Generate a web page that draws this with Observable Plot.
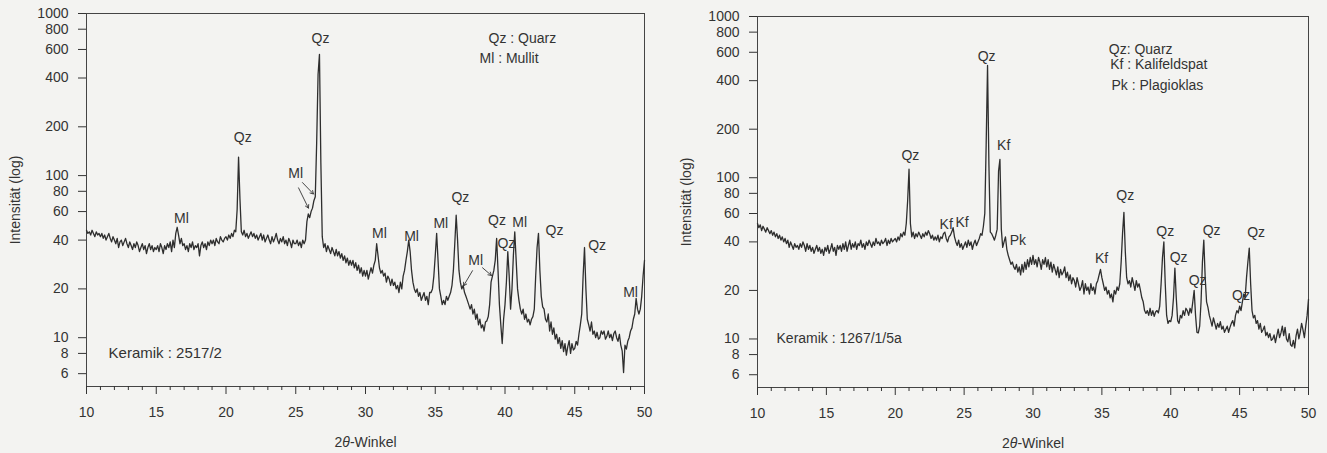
<!DOCTYPE html>
<html>
<head>
<meta charset="utf-8">
<script src="https://cdn.jsdelivr.net/npm/d3@7"></script>
<script src="https://cdn.jsdelivr.net/npm/@observablehq/plot@0.6"></script>
<style>
  body { margin: 0; background: #f3f3f1; font-family: "Liberation Sans", Arial, sans-serif; }
  #charts { display: flex; width: 1327px; height: 453px; }
</style>
</head>
<body>
<div id="charts"></div>
<script>
// Scan start, step and tick values (2θ in degrees, intensity on a log axis)
const thetaStart = 10;
const thetaStep = 0.1;
const xMajorTicks = [10, 15, 20, 25, 30, 35, 40, 45, 50];
const xMinorTicks = [11, 12, 13, 14, 16, 17, 18, 19, 21, 22, 23, 24, 26, 27, 28, 29, 31, 32, 33, 34,
                     36, 37, 38, 39, 41, 42, 43, 44, 46, 47, 48, 49];
const yTicks = [6, 8, 10, 20, 40, 60, 80, 100, 200, 400, 600, 800, 1000];

// Keramik 2517/2 — intensity per 0.1° step, one row per degree (10.0 … 50.0)
const counts2517 = [
  46, 44, 45, 43, 46, 44, 42, 45, 43, 44,
  42, 44, 41, 43, 40, 42, 44, 41, 39, 42,
  40, 38, 41, 36, 39, 40, 37, 39, 41, 38,
  36, 39, 37, 35, 38, 36, 39, 37, 34, 36,
  38, 35, 37, 33, 36, 38, 35, 37, 34, 36,
  35, 37, 34, 38, 36, 33, 37, 35, 38, 36,
  39, 34, 40, 36, 44, 48, 43, 38, 41, 37,
  38, 35, 37, 34, 38, 36, 39, 35, 37, 36,
  38, 32, 37, 39, 36, 38, 35, 39, 37, 40,
  38, 40, 37, 41, 39, 38, 42, 40, 39, 41,
  42, 40, 43, 41, 44, 42, 46, 45, 62, 130,
  72, 45, 43, 46, 42, 44, 41, 43, 45, 42,
  44, 41, 43, 40, 42, 44, 40, 43, 39, 41,
  43, 40, 38, 42, 39, 41, 44, 40, 38, 41,
  39, 42, 38, 40, 37, 41, 39, 36, 40, 38,
  38, 40, 37, 39, 36, 40, 38, 40, 52, 58,
  55, 60, 63, 70, 74, 160, 420, 560, 120, 42,
  36, 38, 34, 37, 35, 33, 36, 34, 32, 35,
  32, 34, 31, 33, 30, 32, 29, 31, 28, 30,
  28, 30, 27, 29, 26, 28, 25, 27, 24, 26,
  24, 26, 23, 25, 27, 25, 28, 30, 38, 32,
  27, 25, 26, 24, 25, 22, 24, 23, 21, 23,
  21, 22, 20, 21, 19, 22, 20, 24, 26, 30,
  34, 40, 34, 26, 22, 20, 19, 20, 18, 19,
  17, 18, 19, 17, 18, 16, 19, 19, 20, 24,
  32, 44, 30, 20, 18, 16, 17, 16, 18, 17,
  18, 19, 21, 26, 38, 57, 40, 26, 22, 20,
  21, 19, 18, 17, 16, 15, 16, 14, 15, 13,
  14, 12, 13, 11.5, 12, 11, 12.5, 12.7, 13.5, 16,
  22, 24, 26, 30, 41, 26, 16, 12, 9.2, 13,
  16, 22, 34, 24, 15, 20, 32, 45, 30, 20,
  17, 15, 14, 15, 13, 14, 12.5, 13, 12, 13,
  13.5, 15, 24, 36, 44, 26, 18, 15.5, 15, 13,
  12.5, 14, 11, 12.5, 10.5, 11.5, 9.8, 10.5, 9.2, 10,
  8.6, 9.6, 8.2, 9.2, 7.8, 8.8, 9.6, 8, 9.2, 8.4,
  8.6, 9.5, 9, 10.5, 12, 14, 24, 36, 20, 13,
  12, 11, 12.5, 10.5, 11, 10, 10.8, 9.8, 10, 11,
  10.5, 11, 9.8, 10.2, 11, 10, 10.5, 9.6, 10.6, 11,
  10, 9.5, 10.5, 9, 8.3, 6.1, 9, 8.5, 9.5, 10,
  11, 11.5, 13, 14, 17.5, 15, 14, 15, 18, 24,
  30
];

// Keramik 1267/1/5a — intensity per 0.1° step, one row per degree (10.0 … 50.0)
const counts1267 = [
  52, 49, 51, 47, 50, 48, 46, 49, 47, 45,
  47, 44, 46, 43, 45, 42, 44, 41, 43, 40,
  42, 39, 41, 37, 40, 38, 36, 39, 37, 38,
  36, 39, 37, 40, 38, 35, 39, 36, 38, 35,
  37, 34, 36, 38, 35, 37, 34, 36, 33, 37,
  35, 38, 34, 36, 39, 35, 37, 33, 38, 36,
  38, 35, 39, 36, 40, 35, 38, 41, 36, 39,
  37, 40, 36, 39, 38, 41, 37, 39, 36, 40,
  38, 41, 39, 37, 40, 38, 42, 39, 40, 38,
  41, 39, 40, 42, 38, 41, 39, 42, 40, 41,
  42, 40, 43, 41, 45, 43, 46, 44, 52, 72,
  113, 52, 43, 46, 42, 45, 43, 46, 44, 42,
  45, 43, 46, 44, 47, 45, 42, 44, 41, 43,
  41, 44, 40, 43, 42, 45, 46, 42, 40, 43,
  44, 46, 49, 43, 40, 38, 41, 37, 39, 36,
  38, 40, 37, 41, 38, 40, 36, 39, 41, 38,
  40, 42, 45, 44, 50, 60, 160, 497, 120, 46,
  45, 43, 41, 44, 48, 110, 130, 48, 37, 40,
  43, 36, 33, 31, 29, 30, 28, 27, 29, 26,
  28, 25, 29, 26, 30, 27, 31, 28, 32, 29,
  33, 29, 31, 28, 32, 30, 27, 31, 29, 32,
  28, 31, 27, 30, 26, 29, 27, 25, 28, 24,
  27, 25, 26, 28, 24, 26, 23, 25, 22, 24,
  23, 21, 24, 22, 20, 21, 23, 19, 22, 20,
  21, 19, 22, 20, 21, 19, 22, 23, 25, 27,
  24, 22, 20, 21, 19, 20, 18, 19, 17, 20,
  19, 21, 20, 22, 30, 45, 61, 35, 24, 22,
  23, 21, 24, 22, 20, 23, 21, 22, 20, 18,
  17, 15, 14.4, 15, 14, 15.5, 14, 15, 13.8, 14.7,
  15, 14.5, 16, 22, 32, 40, 22, 14, 12.5, 13,
  12.8, 14, 18, 27.5, 18, 13, 12.5, 14, 13.5, 15,
  14, 15.5, 15, 14, 15.5, 14.5, 17, 20, 14, 11,
  10.9, 12, 17, 30, 41, 24, 17, 15.7, 14, 13,
  12, 13.5, 12.5, 11.5, 12.5, 11.8, 12.8, 11.5, 12, 11,
  11.5, 12, 11, 11.8, 12.5, 13, 12, 14, 15, 14.5,
  16, 15, 17, 19, 18, 24, 30, 36.6, 22, 15,
  13.5, 14, 12.5, 13, 11.5, 12.5, 11, 11.4, 12, 10.5,
  11, 10.2, 10.8, 9.8, 10, 10.6, 9.5, 10.5, 11.5, 10.2,
  10.9, 12, 10.5, 11.8, 10, 9.6, 10.8, 9.2, 9, 9.8,
  8.8, 10.5, 11.5, 10, 11, 12.5, 11.4, 10.2, 12, 14,
  17.6
];

// Phase labels: text, 2θ and intensity of the label anchor
const peakLabels2517 = [
  {text: "Ml", theta: 16.8, counts: 54},
  {text: "Qz", theta: 21.2, counts: 172},
  {text: "Ml", theta: 25.0, counts: 103},
  {text: "Qz", theta: 26.77, counts: 700},
  {text: "Ml", theta: 31.0, counts: 44},
  {text: "Ml", theta: 33.3, counts: 42},
  {text: "Ml", theta: 35.4, counts: 50.6},
  {text: "Qz", theta: 36.8, counts: 73},
  {text: "Ml", theta: 37.9, counts: 30},
  {text: "Qz", theta: 39.43, counts: 52.7},
  {text: "Qz", theta: 40.1, counts: 38},
  {text: "Ml", theta: 41.05, counts: 51},
  {text: "Qz", theta: 43.55, counts: 45.7},
  {text: "Qz", theta: 46.6, counts: 37},
  {text: "Ml", theta: 49.0, counts: 19}
];
const pointers2517 = [
  {theta1: 25.2, counts1: 84, theta2: 25.91, counts2: 63},
  {theta1: 25.48, counts1: 90.6, theta2: 26.27, counts2: 77},
  {theta1: 37.67, counts1: 25.9, theta2: 37.03, counts2: 20.9},
  {theta1: 38.39, counts1: 27, theta2: 39.03, counts2: 24.2}
];
const legend2517 = [
  {text: "Qz : Quarz", theta: 38.82, counts: 701},
  {text: "Ml : Mullit", theta: 38.17, counts: 527}
];
const sample2517 = [{text: "Keramik : 2517/2", theta: 11.58, counts: 8.07}];

const peakLabels1267 = [
  {text: "Qz", theta: 21.1, counts: 138},
  {text: "Kf", theta: 23.7, counts: 51.5},
  {text: "Kf", theta: 24.85, counts: 53},
  {text: "Qz", theta: 26.63, counts: 565},
  {text: "Kf", theta: 27.87, counts: 159},
  {text: "Pk", theta: 28.9, counts: 41},
  {text: "Kf", theta: 34.98, counts: 31.7},
  {text: "Qz", theta: 36.7, counts: 78},
  {text: "Qz", theta: 39.6, counts: 46.6},
  {text: "Qz", theta: 40.57, counts: 32},
  {text: "Qz", theta: 41.95, counts: 23.2},
  {text: "Qz", theta: 42.97, counts: 47.3},
  {text: "Qz", theta: 45.1, counts: 18.7},
  {text: "Qz", theta: 46.2, counts: 46}
];
const legend1267 = [
  {text: "Qz: Quarz", theta: 35.5, counts: 625},
  {text: "Kf : Kalifeldspat", theta: 35.6, counts: 505},
  {text: "Pk : Plagioklas", theta: 35.7, counts: 374}
];
const sample1267 = [{text: "Keramik : 1267/1/5a", theta: 11.38, counts: 10}];

const ink = "#333";
const toSeries = (counts) => counts.map((c, i) => ({theta: thetaStart + i * thetaStep, counts: c}));

function diffractogram({counts, labels, pointers, legend, sample, sampleSize, width, margins}) {
  const svg = Plot.plot({
    width,
    height: 453,
    ...margins,
    style: {background: "transparent", fontFamily: "'Liberation Sans', Arial, sans-serif", fontSize: "14px", color: ink},
    x: {domain: [10, 50]},
    y: {type: "log", domain: [5, 1000]},
    marks: [
      Plot.frame({stroke: "#444", strokeWidth: 1}),
      // y ticks; their labels are drawn as a text mark so every value shows on the log axis
      Plot.axisY({ticks: yTicks, tickSize: 8, text: null,
                  label: "Intensität (log)", labelAnchor: "center", labelOffset: 76, labelArrow: "none"}),
      Plot.text(yTicks, {y: d => d, text: d => String(d), frameAnchor: "left", dx: -18,
                         textAnchor: "end", fill: ink, fontSize: 14}),
      Plot.axisX({ticks: xMajorTicks, tickSize: 8, tickPadding: 13, tickFormat: d => String(d),
                  label: "2θ-Winkel", labelAnchor: "center", labelOffset: 60, labelArrow: "none"}),
      Plot.axisX({ticks: xMinorTicks, tickSize: 4, text: null, label: null}),
      Plot.line(toSeries(counts), {x: "theta", y: "counts", stroke: "#2e2e2e", strokeWidth: 1.3}),
      Plot.text(labels, {x: "theta", y: "counts", text: "text", fill: ink, fontSize: 14}),
      Plot.arrow(pointers, {x1: "theta1", y1: "counts1", x2: "theta2", y2: "counts2",
                            stroke: ink, strokeWidth: 0.9, headLength: 6}),
      Plot.text(legend, {x: "theta", y: "counts", text: "text", fill: ink, fontSize: 14, textAnchor: "start"}),
      Plot.text(sample, {x: "theta", y: "counts", text: "text", fill: ink, fontSize: sampleSize, textAnchor: "start"})
    ]
  });
  // italic theta in the x-axis title
  svg.querySelectorAll("text").forEach(t => {
    if (t.textContent === "2θ-Winkel") {
      t.textContent = "";
      const ns = "http://www.w3.org/2000/svg";
      [["2", null], ["θ", "italic"], ["-Winkel", null]].forEach(([s, style]) => {
        const span = document.createElementNS(ns, "tspan");
        span.textContent = s;
        if (style) span.setAttribute("font-style", style);
        t.appendChild(span);
      });
    }
  });
  return svg;
}

const charts = document.getElementById("charts");
charts.append(
  diffractogram({
    counts: counts2517, labels: peakLabels2517, pointers: pointers2517, legend: legend2517,
    sample: sample2517, sampleSize: 15, width: 660,
    margins: {marginLeft: 86, marginRight: 16, marginTop: 13, marginBottom: 67}
  }),
  diffractogram({
    counts: counts1267, labels: peakLabels1267, pointers: [], legend: legend1267,
    sample: sample1267, sampleSize: 14, width: 667,
    margins: {marginLeft: 97, marginRight: 19, marginTop: 16, marginBottom: 66}
  })
);
</script>
</body>
</html>
